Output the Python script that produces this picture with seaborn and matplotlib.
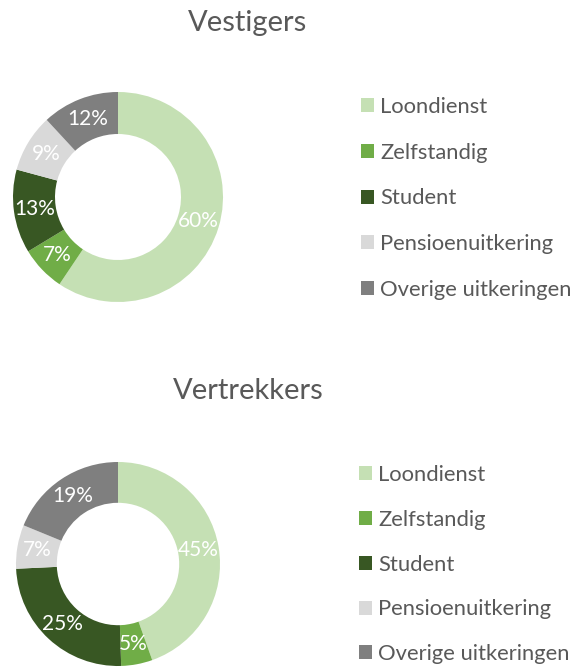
import matplotlib
matplotlib.use("Agg")
import matplotlib.pyplot as plt
import seaborn as sns

categories = ["Loondienst", "Zelfstandig", "Student", "Pensioenuitkering", "Overige uitkeringen"]
vestigers = [60, 7, 13, 9, 12]
vertrekkers = [45, 5, 25, 7, 19]
titles = ["Vestigers", "Vertrekkers"]
colors = ["#C5E0B4", "#70AD47", "#385723", "#D9D9D9", "#7F7F7F"]

sns.set_theme(style="white")
plt.rcParams["font.family"] = ["Lato", "DejaVu Sans"]
palette = sns.color_palette(colors)
TXT = "#595959"

W, H = 576, 667
fig = plt.figure(figsize=(W / 100, H / 100), dpi=100)
fig.patch.set_facecolor("white")

panels = [
    dict(values=vestigers, title=titles[0], cx=118, cy=197, r=105, ty=23, lx=361, ly=97, ls=1.17),
    dict(values=vertrekkers, title=titles[1], cx=118, cy=564, r=102, ty=391, lx=359, ly=465, ls=1.13),
]

for p in panels:
    r = p["r"]
    ax = fig.add_axes([(p["cx"] - r) / W, (H - p["cy"] - r) / H, 2 * r / W, 2 * r / H])
    wedges, _, autotexts = ax.pie(
        p["values"], colors=palette, startangle=90, counterclock=False,
        wedgeprops=dict(width=0.4, linewidth=0),
        autopct="%d", pctdistance=0.8,
        textprops=dict(color="white", fontsize=15),
    )
    for t, v in zip(autotexts, p["values"]):
        t.set_text(f"{v}%")
    ax.set_xlim(-1, 1)
    ax.set_ylim(-1, 1)
    ax.set_aspect("equal")
    ax.axis("off")
    fig.text(248 / W, 1 - p["ty"] / H, p["title"], ha="center", va="center",
             fontsize=21, color=TXT)
    fig.legend(wedges, categories, loc="upper left",
               bbox_to_anchor=(p["lx"] / W, 1 - p["ly"] / H),
               frameon=False, fontsize=15.8, labelcolor=TXT,
               handlelength=0.6, handleheight=0.6, handletextpad=0.28,
               labelspacing=p["ls"], borderaxespad=0, borderpad=0)

fig.savefig("out.png", dpi=100, facecolor="white")
